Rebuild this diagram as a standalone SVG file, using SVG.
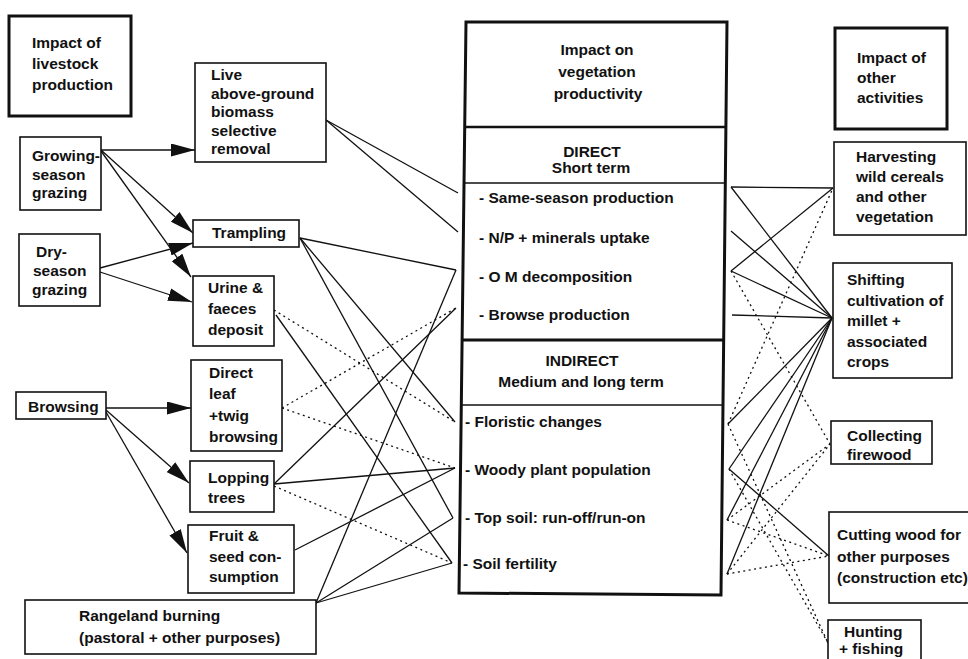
<svg xmlns="http://www.w3.org/2000/svg" width="968" height="659" viewBox="0 0 968 659">
<style>
text{font-family:"Liberation Sans",Arial,sans-serif;font-weight:bold;font-size:15.5px;fill:#111}
.box{fill:#fff;stroke:#111;stroke-width:1.6}
.tbox{fill:#fff;stroke:#111;stroke-width:3}
.c{stroke:#111;stroke-width:1.3;fill:none}
.d{stroke:#111;stroke-width:1.3;fill:none;stroke-dasharray:2 3.5}
.a{stroke:#111;stroke-width:1.3;fill:none;marker-end:url(#ah)}
.m{text-anchor:middle}
</style>
<defs>
<marker id="ah" viewBox="0 0 24 13" refX="24" refY="6.5" markerWidth="24" markerHeight="13" markerUnits="userSpaceOnUse" orient="auto">
<path d="M0,0 L24,6.5 L0,13 z" fill="#111"/>
</marker>
</defs>
<rect width="968" height="659" fill="#fff"/>

<g id="connectors">
<!-- arrows -->
<line class="a" x1="101" y1="150" x2="195" y2="150"/>
<line class="a" x1="101" y1="150" x2="193" y2="233"/>
<line class="a" x1="101" y1="151" x2="191" y2="277"/>
<line class="a" x1="100" y1="268" x2="193" y2="243"/>
<line class="a" x1="100" y1="272" x2="192" y2="302"/>
<line class="a" x1="106" y1="408" x2="191" y2="408"/>
<line class="a" x1="106" y1="410" x2="189" y2="483"/>
<line class="a" x1="106" y1="412" x2="187" y2="553"/>
<!-- left to centre -->
<line class="c" x1="326" y1="120" x2="458" y2="193"/>
<line class="c" x1="326" y1="120" x2="458" y2="232"/>
<line class="c" x1="300" y1="238" x2="456" y2="270"/>
<line class="c" x1="300" y1="238" x2="455" y2="422"/>
<line class="c" x1="300" y1="238" x2="453" y2="518"/>
<line class="d" x1="274" y1="310" x2="455" y2="422"/>
<line class="c" x1="276" y1="315" x2="452" y2="563"/>
<line class="d" x1="282" y1="408" x2="456" y2="308"/>
<line class="d" x1="282" y1="408" x2="455" y2="468"/>
<line class="c" x1="274" y1="484" x2="456" y2="308"/>
<line class="c" x1="274" y1="484" x2="455" y2="468"/>
<line class="d" x1="274" y1="486" x2="452" y2="563"/>
<line class="c" x1="295" y1="550" x2="455" y2="468"/>
<line class="c" x1="316" y1="603" x2="456" y2="270"/>
<line class="c" x1="316" y1="603" x2="453" y2="518"/>
<line class="c" x1="316" y1="603" x2="452" y2="563"/>
<!-- centre to right -->
<line class="c" x1="731" y1="187" x2="833" y2="188"/>
<line class="c" x1="731" y1="187" x2="832" y2="318"/>
<line class="c" x1="731" y1="231" x2="832" y2="318"/>
<line class="c" x1="731" y1="271" x2="833" y2="188"/>
<line class="c" x1="731" y1="271" x2="832" y2="318"/>
<line class="d" x1="731" y1="271" x2="830" y2="444"/>
<line class="c" x1="732" y1="315" x2="832" y2="318"/>
<line class="c" x1="728" y1="424" x2="832" y2="318"/>
<line class="d" x1="728" y1="424" x2="833" y2="188"/>
<line class="d" x1="728" y1="424" x2="828" y2="643"/>
<line class="c" x1="729" y1="469" x2="832" y2="318"/>
<line class="c" x1="729" y1="469" x2="829" y2="556"/>
<line class="d" x1="729" y1="469" x2="828" y2="643"/>
<line class="c" x1="727" y1="520" x2="832" y2="318"/>
<line class="d" x1="727" y1="520" x2="830" y2="444"/>
<line class="d" x1="727" y1="520" x2="829" y2="556"/>
<line class="c" x1="727" y1="574" x2="832" y2="318"/>
<line class="d" x1="727" y1="574" x2="830" y2="444"/>
<line class="d" x1="727" y1="574" x2="829" y2="556"/>
</g>

<g id="livestock-title">
<rect class="tbox" x="9" y="16" width="122" height="100"/>
<text x="32" y="48">Impact of</text>
<text x="32" y="69">livestock</text>
<text x="32" y="90">production</text>
</g>
<g id="live-biomass">
<rect class="box" x="195" y="63" width="131" height="99"/>
<text x="211" y="80">Live</text>
<text x="211" y="99">above-ground</text>
<text x="211" y="117">biomass</text>
<text x="211" y="136">selective</text>
<text x="211" y="154">removal</text>
</g>
<g id="growing-season">
<rect class="box" x="20" y="137" width="81" height="73"/>
<text x="32" y="161">Growing-</text>
<text x="32" y="180">season</text>
<text x="32" y="198">grazing</text>
</g>
<g id="dry-season">
<rect class="box" x="19" y="234" width="81" height="72"/>
<text x="36" y="257">Dry-</text>
<text x="33" y="276">season</text>
<text x="32" y="295">grazing</text>
</g>
<g id="trampling">
<rect class="box" x="193" y="220" width="106" height="27"/>
<text x="212" y="238">Trampling</text>
</g>
<g id="urine">
<rect class="box" x="193" y="276" width="81" height="70"/>
<text x="208" y="293">Urine &amp;</text>
<text x="208" y="314">faeces</text>
<text x="208" y="335">deposit</text>
</g>
<g id="browsing">
<rect class="box" x="16" y="392" width="90" height="27"/>
<text x="28" y="412">Browsing</text>
</g>
<g id="direct-leaf">
<rect class="box" x="191" y="360" width="91" height="91"/>
<text x="209" y="378">Direct</text>
<text x="209" y="399">leaf</text>
<text x="209" y="421">+twig</text>
<text x="209" y="442">browsing</text>
</g>
<g id="lopping">
<rect class="box" x="190" y="461" width="84" height="51"/>
<text x="208" y="483">Lopping</text>
<text x="208" y="503">trees</text>
</g>
<g id="fruit-seed">
<rect class="box" x="188" y="525" width="106" height="68"/>
<text x="209" y="541">Fruit &amp;</text>
<text x="209" y="562">seed con-</text>
<text x="209" y="582">sumption</text>
</g>
<g id="rangeland">
<rect class="box" x="25" y="600" width="291" height="54"/>
<text x="79" y="621">Rangeland burning</text>
<text x="79" y="643">(pastoral + other purposes)</text>
</g>

<g id="vegetation-impact">
<path d="M466,22 L727,22 L721,595 L459,593 Z" fill="#fff" stroke="#111" stroke-width="3"/>
<line x1="464.7" y1="127" x2="725.9" y2="127" stroke="#111" stroke-width="2.6"/>
<line x1="464" y1="183" x2="725.3" y2="183" stroke="#111" stroke-width="1.4"/>
<line x1="462.1" y1="340" x2="723.7" y2="340" stroke="#111" stroke-width="3"/>
<line x1="461.3" y1="405" x2="723" y2="405" stroke="#111" stroke-width="1.4"/>
<text class="m" x="597" y="55">Impact on</text>
<text class="m" x="597" y="77">vegetation</text>
<text class="m" x="598" y="99">productivity</text>
<text class="m" x="592" y="157">DIRECT</text>
<text class="m" x="591" y="173">Short term</text>
<text x="479" y="203">- Same-season production</text>
<text x="479" y="243">- N/P + minerals uptake</text>
<text x="479" y="282">- O M decomposition</text>
<text x="479" y="320">- Browse production</text>
<text class="m" x="582" y="366">INDIRECT</text>
<text class="m" x="581" y="387">Medium and long term</text>
<text x="465" y="427">- Floristic changes</text>
<text x="465" y="475">- Woody plant population</text>
<text x="465" y="523">- Top soil: run-off/run-on</text>
<text x="463" y="569">- Soil fertility</text>
</g>

<g id="other-title">
<rect class="tbox" x="835" y="28" width="112" height="101"/>
<text x="857" y="63">Impact of</text>
<text x="857" y="83">other</text>
<text x="857" y="103">activities</text>
</g>
<g id="harvesting">
<rect class="box" x="834" y="142" width="132" height="93"/>
<text x="856" y="162">Harvesting</text>
<text x="856" y="182">wild cereals</text>
<text x="856" y="202">and other</text>
<text x="856" y="222">vegetation</text>
</g>
<g id="shifting">
<rect class="box" x="833" y="263" width="119" height="115"/>
<text x="847" y="285">Shifting</text>
<text x="847" y="306">cultivation of</text>
<text x="847" y="326">millet +</text>
<text x="847" y="347">associated</text>
<text x="847" y="367">crops</text>
</g>
<g id="firewood">
<rect class="box" x="831" y="421" width="101" height="43"/>
<text x="847" y="441">Collecting</text>
<text x="847" y="460">firewood</text>
</g>
<g id="cutting-wood">
<rect class="box" x="829" y="512" width="150" height="91"/>
<text x="837" y="540">Cutting wood for</text>
<text x="837" y="562">other purposes</text>
<text x="837" y="583">(construction etc)</text>
</g>
<g id="hunting">
<rect class="box" x="828" y="620" width="93" height="50"/>
<text x="844" y="637">Hunting</text>
<text x="839" y="654">+ fishing</text>
</g>
</svg>
